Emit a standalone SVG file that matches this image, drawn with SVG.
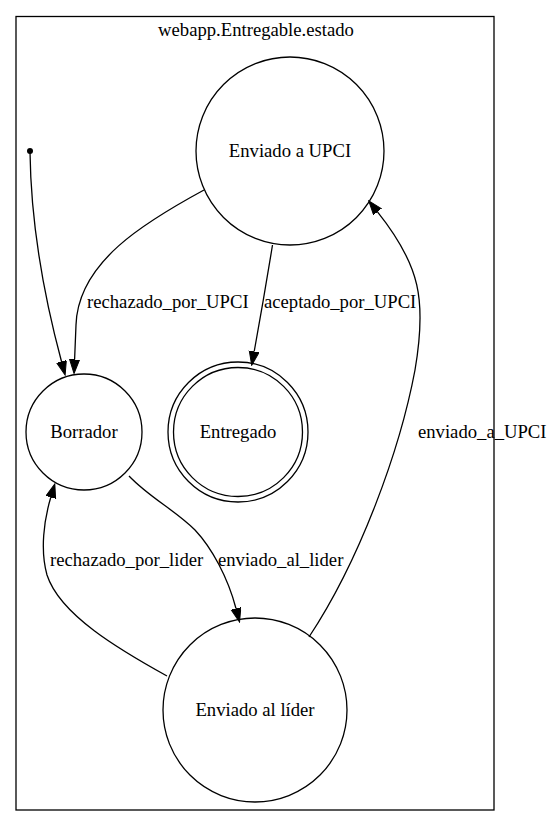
<svg xmlns="http://www.w3.org/2000/svg" width="552" height="828" viewBox="0 0 552 828">
<defs>
<style>
.node{fill:none;stroke:#000;stroke-width:1.3}
.edge{fill:none;stroke:#000;stroke-width:1.3;marker-end:url(#arrow)}
.c{text-anchor:middle}
</style>
<marker id="arrow" markerUnits="userSpaceOnUse" markerWidth="15" markerHeight="11" refX="0" refY="5" orient="auto">
<path d="M0,0 L14,5 L0,10 z" fill="#000" stroke="#000" stroke-width="1"/>
</marker>
</defs>
<rect width="552" height="828" fill="#fff"/>
<g font-family="'Liberation Serif', 'Times New Roman', Times, serif" font-size="18.67" fill="#000">
<g id="cluster">
<rect x="16" y="16.5" width="478" height="793.5" fill="none" stroke="#000" stroke-width="1.3"/>
<text class="c" x="256" y="36">webapp.Entregable.estado</text>
</g>
<g id="init"><circle cx="30" cy="151" r="3" fill="#000"/></g>
<g id="enviado_upci"><circle class="node" cx="290" cy="151" r="94"/><text class="c" x="290" y="157">Enviado a UPCI</text></g>
<g id="borrador"><circle class="node" cx="84" cy="432" r="58"/><text class="c" x="84" y="438">Borrador</text></g>
<g id="entregado"><circle class="node" cx="238" cy="432" r="70"/><circle class="node" cx="238" cy="432" r="64.5"/><text class="c" x="238" y="438">Entregado</text></g>
<g id="enviado_lider"><circle class="node" cx="255" cy="710" r="92"/><text class="c" x="255" y="716">Enviado al líder</text></g>
<g id="edges">
<path class="edge" d="M30,152 C31,230 45,300 61.5,361.5"/>
<path class="edge" d="M204,190 C145,222 78,262 76,325 L74.6,359.5"/>
<path class="edge" d="M272.5,245 C266,285 259,325 254.2,351.5"/>
<path class="edge" d="M129,476 C150,498 175,510 195,530 C212,548 228,578 236,608.5"/>
<path class="edge" d="M167,676 C120,650 60,615 47,575 C40,550 44,520 50.8,497.3"/>
<path class="edge" d="M309,637 C360,560 400,450 415,370 C427,300 420,265 377.5,211.8"/>
<text x="87" y="308">rechazado_por_UPCI</text>
<text x="264" y="308">aceptado_por_UPCI</text>
<text x="218" y="566">enviado_al_lider</text>
<text x="50" y="566">rechazado_por_lider</text>
<text x="418" y="438">enviado_a_UPCI</text>
</g>
</g>
</svg>
